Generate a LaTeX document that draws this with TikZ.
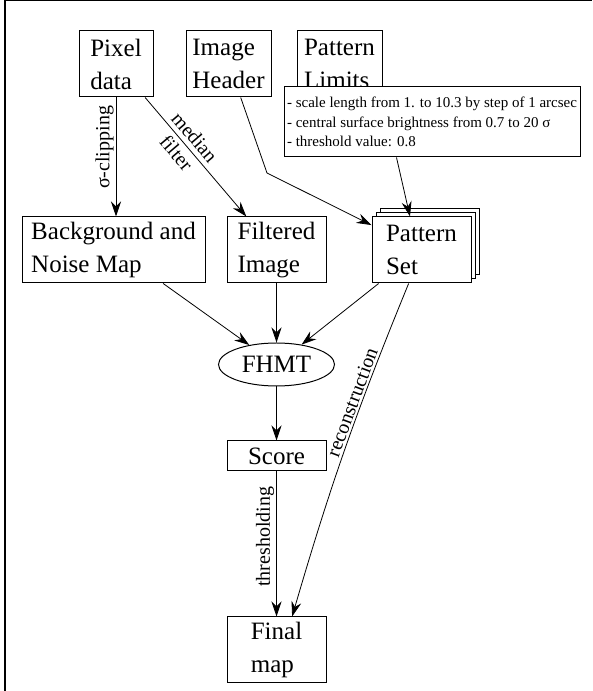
\documentclass[tikz,border=0pt]{standalone}
\usepackage{fontspec}
\setmainfont{Liberation Serif}
\usetikzlibrary{arrows.meta,shapes.geometric,shadows}

\begin{document}
\begin{tikzpicture}[x=1pt,y=1pt,
  box/.style={draw=drawColor,line width=1pt,fill=fillColor,inner sep=0pt,align=left,
    font=\fontsize{25}{33}\selectfont},
  arr/.style={draw=drawColor,line width=0.8pt,-{Stealth[length=15pt,width=10pt,inset=5pt]}},
  lbl/.style={text=drawColor,inner sep=2pt,font=\fontsize{20}{24}\selectfont}]
\definecolor{fillColor}{RGB}{255,255,255}
\definecolor{drawColor}{RGB}{0,0,0}
\path[use as bounding box,fill=fillColor] (0,0) rectangle (592,691);

\path[draw=drawColor,line width=1.2pt] (  5.00,  0.00) -- (  5.00,690.40) -- (592.00,690.40);

\node[box,minimum width=74,minimum height=66] (pix) at (116.00,627.00) {Pixel\\data};

\node[box,minimum width=85,minimum height=66] (hdr) at (228.50,627.00) {Image\\Header};

\node[box,minimum width=85,minimum height=66] (lim) at (339.50,627.00) {Pattern\\Limits};

\node[box,minimum width=296,minimum height=70,font=\fontsize{15}{19.5}\selectfont] (lst) at (432.00,569.00)
  {- scale length from 1. to 10.3 by step of 1 arcsec\\- central surface brightness from 0.7 to 20 σ\\- threshold value: 0.8};

\node[box,minimum width=183,minimum height=66] (bg) at (113.50,441.00) {Background and\\Noise Map};

\node[box,minimum width=99,minimum height=66] (flt) at (276.50,441.00) {Filtered\\Image};

\node[box,minimum width=99,minimum height=66,
  double copy shadow={shadow xshift=4pt,shadow yshift=4pt}] (pat) at (421.50,441.00) {Pattern\\Set};

\node[box,ellipse,minimum width=116,minimum height=43] (fhmt) at (276.50,326.50) {FHMT};

\node[box,minimum width=99,minimum height=30] (score) at (276.50,235.00) {Score};

\node[box,minimum width=99,minimum height=66] (fin) at (276.50, 41.00) {Final\\map};

\coordinate (kink) at (267.00,518.00);

\draw[arr] (pix.south) -- (pix.south |- bg.north) node[lbl,rotate=90,above,pos=0.42] {σ-clipping};

\draw[arr] (pix.-49) -- (flt.132) node[lbl,sloped,align=center,pos=0.40] {median\\filter};

\draw[arr] (hdr.-70) -- (kink) -- (pat);

\draw[arr] (lst.225) -- (pat.109);

\draw[arr] (bg.-34) -- (fhmt);

\draw[arr] (flt) -- (fhmt);

\draw[arr] (pat.218) -- (fhmt);

\draw[arr] (fhmt) -- (score);

\draw[arr] (score) -- (fin) node[lbl,rotate=90,above,pos=0.45] {thresholding};

\draw[arr] (pat.249) to[bend right=3] node[lbl,sloped,above,pos=0.36] {reconstruction} (fin.65);
\end{tikzpicture}
\end{document}
